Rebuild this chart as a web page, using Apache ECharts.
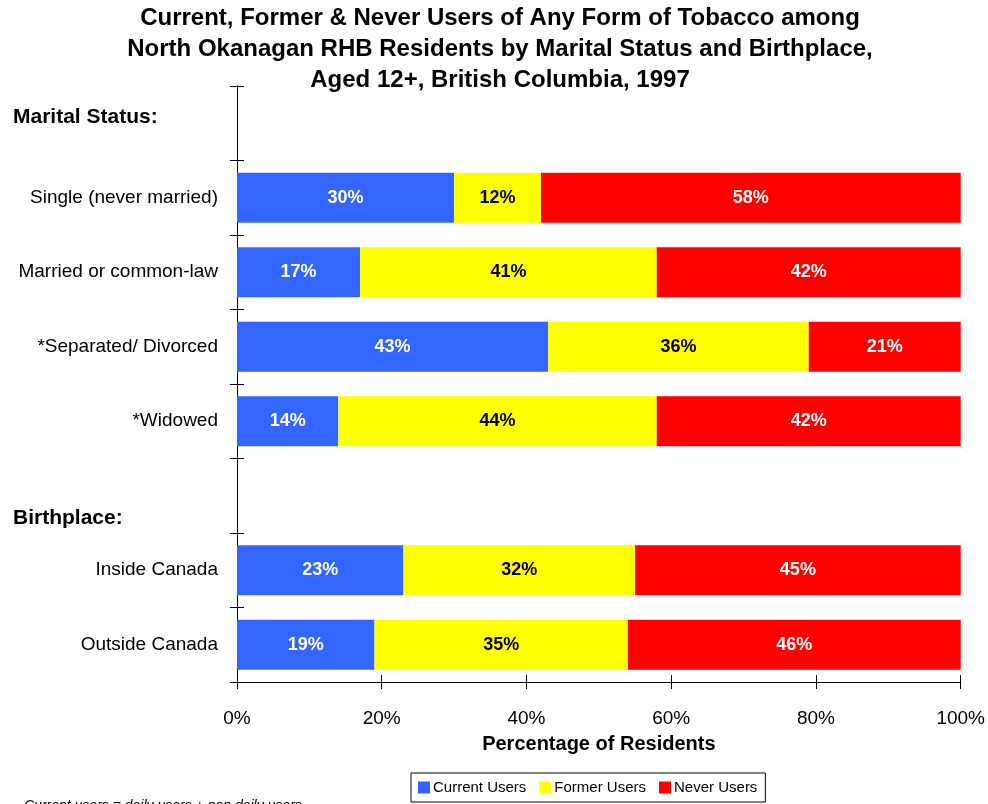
<!DOCTYPE html>
<html>
<head>
<meta charset="utf-8">
<script src="https://cdn.jsdelivr.net/npm/echarts@6/dist/echarts.min.js"></script>
<style>
  html, body { margin: 0; padding: 0; background: #fff; }
  #chart { width: 988px; height: 804px; }
</style>
</head>
<body>
<div id="chart"></div>
<script>
// rows from top to bottom; headers have no values
const categories = ['Marital Status:', 'Single (never married)', 'Married or common-law', '*Separated/ Divorced', '*Widowed', 'Birthplace:', 'Inside Canada', 'Outside Canada']
const headers = ['Marital Status:', 'Birthplace:']
const currentUsers = [null, 30, 17, 43, 14, null, 23, 19]
const formerUsers = [null, 12, 41, 36, 44, null, 32, 35]
const neverUsers = [null, 58, 42, 21, 42, null, 45, 46]
const seriesNames = ['Current Users', 'Former Users', 'Never Users']
const xTicks = [0, 20, 40, 60, 80, 100]

const FONT = 'Liberation Sans'
const colors = ['#3366FF', '#FFFF00', '#FF0000']
const labelColors = ['#fff', '#000', '#fff']

const chart = echarts.init(document.getElementById('chart'))

function makeSeries (name, data, idx) {
  return {
    name: name,
    type: 'bar',
    stack: 'total',
    barWidth: '67%',
    data: data,
    itemStyle: { color: colors[idx] },
    label: {
      show: true,
      position: 'inside',
      formatter: p => p.value == null ? '' : p.value + '%',
      color: labelColors[idx],
      fontFamily: FONT,
      fontWeight: 'bold',
      fontSize: 18
    }
  }
}

const yBase = {
  type: 'category',
  inverse: true,
  data: categories,
  axisLine: { show: true, lineStyle: { color: '#000', width: 1 } },
  axisTick: { show: true, length: 7, lineStyle: { color: '#000' } },
  splitLine: { show: false }
}

const xBase = {
  type: 'value',
  min: 0,
  max: 100,
  interval: 20,
  axisLine: { show: true, lineStyle: { color: '#000', width: 1 } },
  axisTick: { show: true, length: 7, lineStyle: { color: '#000' } },
  splitLine: { show: false }
}

const option = {
  backgroundColor: '#fff',
  animation: false,
  title: {
    text: 'Current, Former & Never Users of Any Form of Tobacco among\nNorth Okanagan RHB Residents by Marital Status and Birthplace,\nAged 12+, British Columbia, 1997',
    left: 500,
    textAlign: 'center',
    top: 3,
    padding: 0,
    textStyle: { fontFamily: FONT, fontWeight: 'bold', fontSize: 24, lineHeight: 31, color: '#000' }
  },
  legend: {
    data: seriesNames,
    left: 411,
    top: 773,
    icon: 'rect',
    itemWidth: 12,
    itemHeight: 12,
    itemGap: 13,
    padding: [7, 8, 7, 7],
    borderColor: '#000',
    borderWidth: 1,
    textStyle: { fontFamily: FONT, fontSize: 15, color: '#000', padding: [0, 0, 0, -2] }
  },
  grid: { left: 237, right: 26, top: 86, bottom: 122 },
  xAxis: [
    Object.assign({}, xBase, {
      axisLabel: {
        formatter: v => xTicks.includes(v) ? v + '%' : '',
        margin: 27,
        fontFamily: FONT,
        fontSize: 19,
        color: '#000'
      },
      name: 'Percentage of Residents',
      nameLocation: 'middle',
      nameGap: 52,
      nameTextStyle: { fontFamily: FONT, fontWeight: 'bold', fontSize: 20, color: '#000' }
    }),
    Object.assign({}, xBase, {
      position: 'bottom',
      axisTick: { show: true, inside: true, length: 7, lineStyle: { color: '#000' } },
      axisLabel: { show: false }
    })
  ],
  yAxis: [
    Object.assign({}, yBase, {
      axisLabel: {
        margin: 19,
        fontFamily: FONT,
        fontSize: 19,
        color: '#000',
        formatter: v => v === headers[0] ? '{hdrA|' + v + '}' : v === headers[1] ? '{hdrB|' + v + '}' : v,
        rich: {
          hdrA: { width: 205, align: 'left', padding: [0, 0, 12, 0], fontFamily: FONT, fontWeight: 'bold', fontSize: 21, color: '#000' },
          hdrB: { width: 205, align: 'left', padding: [44, 0, 0, 0], fontFamily: FONT, fontWeight: 'bold', fontSize: 21, color: '#000' }
        }
      }
    }),
    Object.assign({}, yBase, {
      position: 'left',
      axisTick: { show: true, inside: true, length: 7, lineStyle: { color: '#000' } },
      axisLabel: { show: false }
    })
  ],
  series: [
    makeSeries(seriesNames[0], currentUsers, 0),
    makeSeries(seriesNames[1], formerUsers, 1),
    makeSeries(seriesNames[2], neverUsers, 2)
  ],
  graphic: [{
    type: 'text',
    left: 24,
    top: 799,
    style: {
      text: 'Current users = daily users + non daily users',
      fontFamily: FONT,
      fontStyle: 'italic',
      fontSize: 14,
      fill: '#000'
    }
  }]
}

chart.setOption(option)
</script>
</body>
</html>
